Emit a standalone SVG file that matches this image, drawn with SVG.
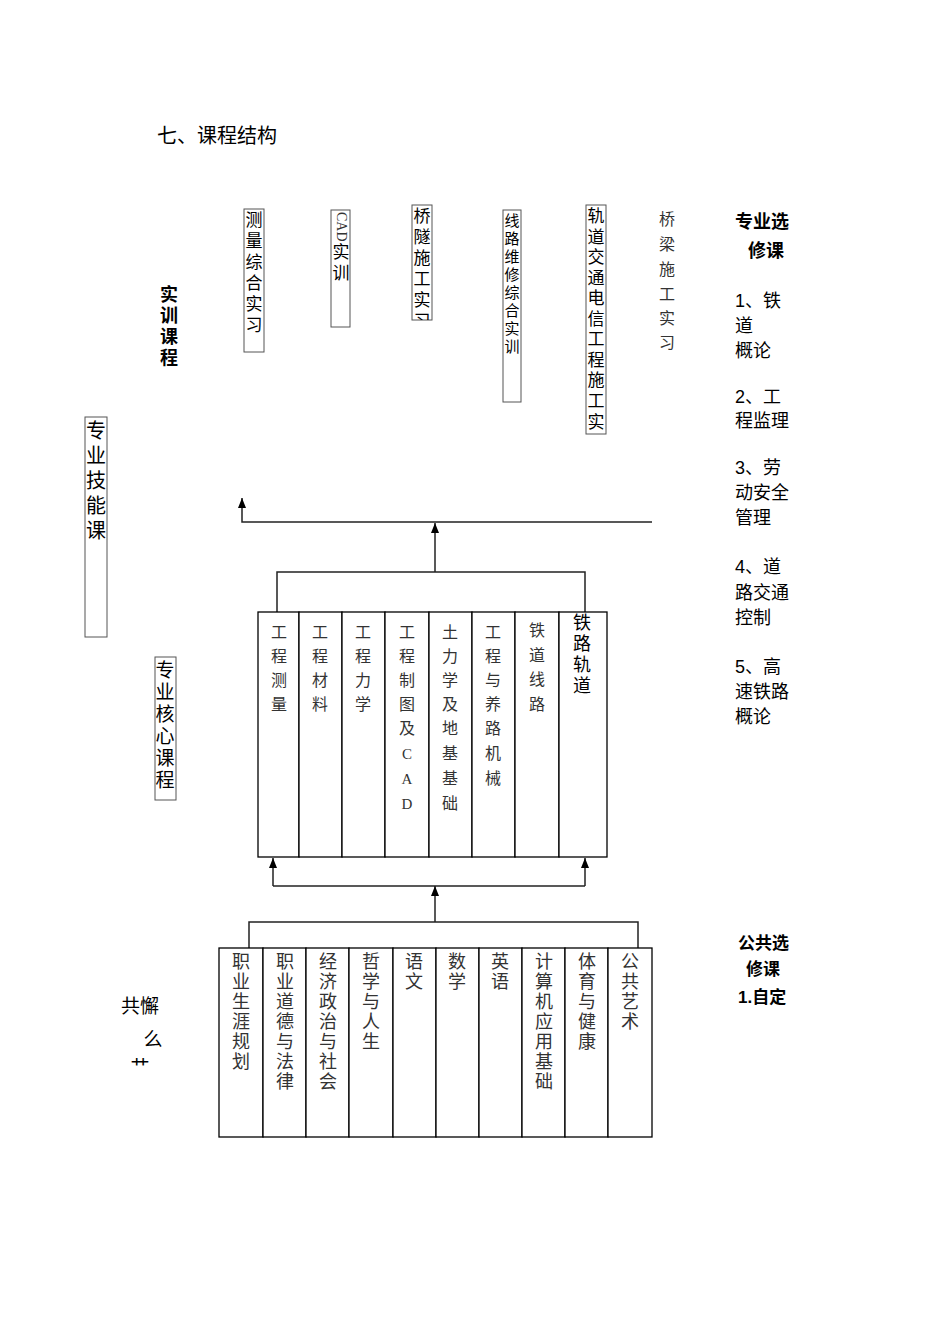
<svg xmlns="http://www.w3.org/2000/svg" width="950" height="1344" viewBox="0 0 950 1344">
<style>
text{font-family:"Liberation Sans","Noto Sans CJK SC",sans-serif;fill:#000}
.s text,text.s{font-family:"Liberation Serif","Noto Sans CJK SC",serif;fill:#333}
.k text{font-family:"Liberation Sans","Noto Sans CJK SC",sans-serif}
.b{font-weight:bold}
.box{fill:#fff;stroke:#000;stroke-width:1.3}
.gb{fill:#fff;stroke:#555;stroke-width:1}
.ln{fill:none;stroke:#222;stroke-width:1.5}
</style>
<defs>
<marker id="ar" markerWidth="10" markerHeight="8" refX="10" refY="4" orient="auto" markerUnits="userSpaceOnUse" viewBox="0 0 10 8"><path d="M0,0 L10,4 L0,8 Z" fill="#000"/></marker>
<clipPath id="c1"><rect x="412" y="205" width="21" height="115"/></clipPath>
<clipPath id="c2"><rect x="100" y="1050" width="80" height="20"/></clipPath>
</defs>
<rect width="950" height="1344" fill="#fff"/>
<text x="157" y="143" font-size="20">七、课程结构</text>

<g id="practical" font-size="17" text-anchor="middle">
<g id="n-measure"><rect class="gb" x="244" y="209" width="20" height="143"/>
<text x="254" y="226">测</text><text x="254" y="247">量</text><text x="254" y="268">综</text><text x="254" y="289">合</text><text x="254" y="310">实</text><text x="254" y="331">习</text></g>
<g id="n-cad"><rect class="gb" x="331" y="210" width="19" height="117"/>
<text class="s" x="0" y="0" font-size="14" text-anchor="start" transform="translate(337,212) rotate(90)">CAD</text>
<text x="341" y="258">实</text><text x="341" y="279">训</text></g>
<g id="n-tunnel"><rect class="gb" x="412" y="205" width="20" height="115"/>
<g clip-path="url(#c1)"><text x="422" y="222">桥</text><text x="422" y="243">隧</text><text x="422" y="264">施</text><text x="422" y="285">工</text><text x="422" y="306">实</text><text x="422" y="327">习</text></g></g>
<g id="n-line" font-size="15"><rect class="gb" x="503" y="210" width="18" height="192"/>
<text x="512" y="226">线</text><text x="512" y="244">路</text><text x="512" y="262">维</text><text x="512" y="280">修</text><text x="512" y="298">综</text><text x="512" y="316">合</text><text x="512" y="334">实</text><text x="512" y="352">训</text></g>
<g id="n-rail"><rect class="gb" x="586" y="205" width="20" height="229"/>
<text x="596" y="222">轨</text><text x="596" y="243">道</text><text x="596" y="263">交</text><text x="596" y="284">通</text><text x="596" y="304">电</text><text x="596" y="325">信</text><text x="596" y="345">工</text><text x="596" y="366">程</text><text x="596" y="386">施</text><text x="596" y="407">工</text><text x="596" y="428">实</text></g>
<g id="n-bridge" class="s" font-size="16"><text x="667" y="225">桥</text><text x="667" y="250">梁</text><text x="667" y="275">施</text><text x="667" y="300">工</text><text x="667" y="324">实</text><text x="667" y="348">习</text></g>
</g>

<g id="elective" font-size="18">
<text class="b" x="735" y="228">专业选</text><text class="b" x="748" y="257">修课</text>
<text x="735" y="307">1、铁</text><text x="735" y="332">道</text><text x="735" y="357">概论</text>
<text x="735" y="403">2、工</text><text x="735" y="427">程监理</text>
<text x="735" y="474">3、劳</text><text x="735" y="499">动安全</text><text x="735" y="524">管理</text>
<text x="735" y="573">4、道</text><text x="735" y="599">路交通</text><text x="735" y="624">控制</text>
<text x="735" y="673">5、高</text><text x="735" y="698">速铁路</text><text x="735" y="723">概论</text>
</g>

<g id="labels" text-anchor="middle">
<g id="l-shixun" class="b" font-size="18"><text x="169" y="301">实</text><text x="169" y="322">训</text><text x="169" y="343">课</text><text x="169" y="364">程</text></g>
<g id="l-skill" font-size="20"><rect class="gb" x="85" y="417" width="22" height="220"/><text x="96" y="438">专</text><text x="96" y="463">业</text><text x="96" y="488">技</text><text x="96" y="513">能</text><text x="96" y="538">课</text></g>
<g id="l-core" font-size="19"><rect class="gb" x="155" y="657" width="21" height="143"/><text x="165" y="677">专</text><text x="165" y="699">业</text><text x="165" y="721">核</text><text x="165" y="743">心</text><text x="165" y="765">课</text><text x="165" y="787">程</text></g>
<g id="l-public" font-size="19"><text x="140" y="1013">共懈</text><text x="153" y="1046">么</text><g clip-path="url(#c2)"><text x="140" y="1074">艹</text></g></g>
</g>

<g id="pub-elective" class="b" font-size="17">
<text x="738" y="949">公共选</text><text x="746" y="975">修课</text><text x="738" y="1003">1.自定</text>
</g>

<g id="connectors">
<path class="ln" d="M652,522 H242 V498" marker-end="url(#ar)"/>
<path class="ln" d="M435,572 V523" marker-end="url(#ar)"/>
<path class="ln" d="M277,612 V572 H585 V612"/>
<path class="ln" d="M273,886 H585" />
<path class="ln" d="M273,886 V858" marker-end="url(#ar)"/>
<path class="ln" d="M585,886 V858" marker-end="url(#ar)"/>
<path class="ln" d="M435,922 V886" marker-end="url(#ar)"/>
<path class="ln" d="M249,948 V922 H638 V948"/>
</g>

<g id="core" class="s" font-size="16" text-anchor="middle">
<g id="c1n"><rect class="box" x="258" y="612" width="41" height="245"/><text x="279" y="638">工</text><text x="279" y="662">程</text><text x="279" y="686">测</text><text x="279" y="710">量</text></g>
<g id="c2n"><rect class="box" x="299" y="612" width="43" height="245"/><text x="320" y="638">工</text><text x="320" y="662">程</text><text x="320" y="686">材</text><text x="320" y="710">料</text></g>
<g id="c3n"><rect class="box" x="342" y="612" width="43" height="245"/><text x="363" y="638">工</text><text x="363" y="662">程</text><text x="363" y="686">力</text><text x="363" y="710">学</text></g>
<g id="c4n"><rect class="box" x="385" y="612" width="44" height="245"/><text x="407" y="638">工</text><text x="407" y="662">程</text><text x="407" y="686">制</text><text x="407" y="710">图</text><text x="407" y="734">及</text><text x="407" y="759" font-size="15">C</text><text x="407" y="784" font-size="15">A</text><text x="407" y="809" font-size="15">D</text></g>
<g id="c5n"><rect class="box" x="429" y="612" width="43" height="245"/><text x="450" y="638">土</text><text x="450" y="662">力</text><text x="450" y="686">学</text><text x="450" y="710">及</text><text x="450" y="734">地</text><text x="450" y="759">基</text><text x="450" y="784">基</text><text x="450" y="809">础</text></g>
<g id="c6n"><rect class="box" x="472" y="612" width="43" height="245"/><text x="493" y="638">工</text><text x="493" y="662">程</text><text x="493" y="686">与</text><text x="493" y="710">养</text><text x="493" y="734">路</text><text x="493" y="759">机</text><text x="493" y="784">械</text></g>
<g id="c7n"><rect class="box" x="515" y="612" width="44" height="245"/><text x="537" y="636">铁</text><text x="537" y="661">道</text><text x="537" y="685">线</text><text x="537" y="710">路</text></g>
</g>
<g id="c8n" font-size="18" text-anchor="middle"><rect class="box" x="559" y="612" width="48" height="245"/><text x="582" y="629">铁</text><text x="582" y="650">路</text><text x="582" y="671">轨</text><text x="582" y="692">道</text></g>

<g id="public" class="s" font-size="18" text-anchor="middle">
<g id="p1"><rect class="box" x="219" y="948" width="44" height="189"/><text x="241" y="968">职</text><text x="241" y="988">业</text><text x="241" y="1008">生</text><text x="241" y="1028">涯</text><text x="241" y="1048">规</text><text x="241" y="1068">划</text></g>
<g id="p2"><rect class="box" x="263" y="948" width="43" height="189"/><text x="285" y="968">职</text><text x="285" y="988">业</text><text x="285" y="1008">道</text><text x="285" y="1028">德</text><text x="285" y="1048">与</text><text x="285" y="1068">法</text><text x="285" y="1088">律</text></g>
<g id="p3"><rect class="box" x="306" y="948" width="43" height="189"/><text x="328" y="968">经</text><text x="328" y="988">济</text><text x="328" y="1008">政</text><text x="328" y="1028">治</text><text x="328" y="1048">与</text><text x="328" y="1068">社</text><text x="328" y="1088">会</text></g>
<g id="p4"><rect class="box" x="349" y="948" width="44" height="189"/><text x="371" y="968">哲</text><text x="371" y="988">学</text><text x="371" y="1008">与</text><text x="371" y="1028">人</text><text x="371" y="1048">生</text></g>
<g id="p5"><rect class="box" x="393" y="948" width="43" height="189"/><text x="414" y="968">语</text><text x="414" y="988">文</text></g>
<g id="p6"><rect class="box" x="436" y="948" width="43" height="189"/><text x="457" y="968">数</text><text x="457" y="988">学</text></g>
<g id="p7"><rect class="box" x="479" y="948" width="43" height="189"/><text x="500" y="968">英</text><text x="500" y="988">语</text></g>
<g id="p8"><rect class="box" x="522" y="948" width="43" height="189"/><text x="544" y="968">计</text><text x="544" y="988">算</text><text x="544" y="1008">机</text><text x="544" y="1028">应</text><text x="544" y="1048">用</text><text x="544" y="1068">基</text><text x="544" y="1088">础</text></g>
<g id="p9"><rect class="box" x="565" y="948" width="43" height="189"/><text x="587" y="968">体</text><text x="587" y="988">育</text><text x="587" y="1008">与</text><text x="587" y="1028">健</text><text x="587" y="1048">康</text></g>
<g id="p10"><rect class="box" x="608" y="948" width="44" height="189"/><text x="630" y="968">公</text><text x="630" y="988">共</text><text x="630" y="1008">艺</text><text x="630" y="1028">术</text></g>
</g>
</svg>
